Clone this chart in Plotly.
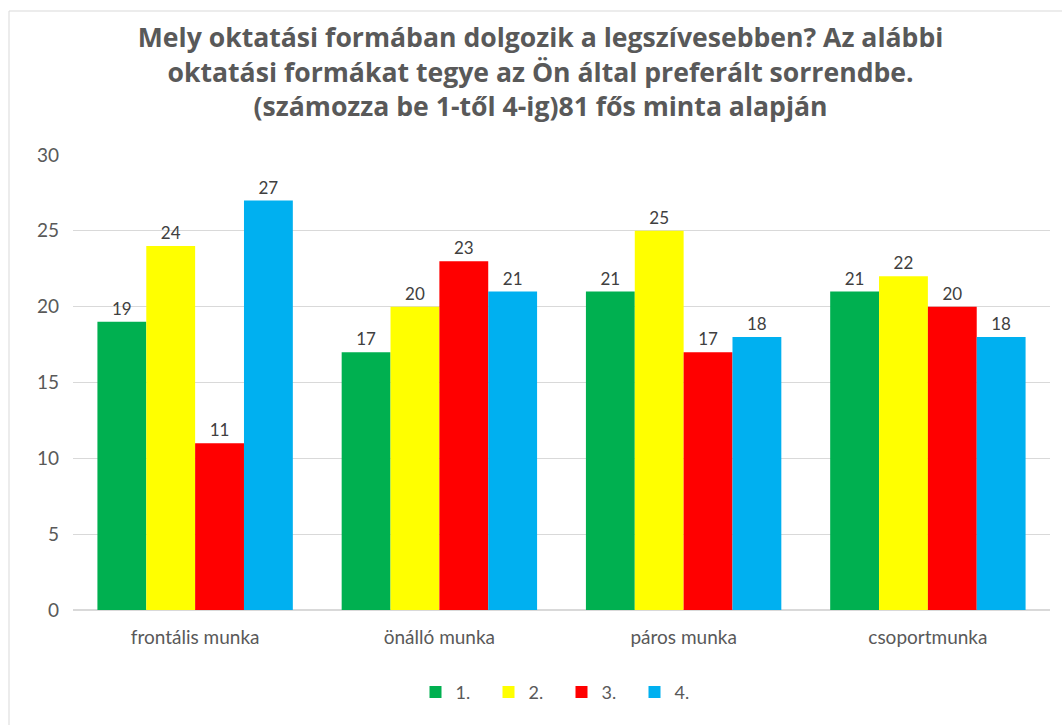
import plotly.graph_objects as go

categories = ["frontális munka", "önálló munka", "páros munka", "csoportmunka"]
series_names = ["1.", "2.", "3.", "4."]
rank1 = [19, 17, 21, 21]
rank2 = [24, 20, 25, 22]
rank3 = [11, 23, 17, 20]
rank4 = [27, 21, 18, 18]
colors = ["#00B050", "#FFFF00", "#FF0000", "#00B0F0"]

title = ("<b>Mely oktatási formában dolgozik a legszívesebben? Az alábbi<br>"
         "oktatási formákat tegye az Ön által preferált sorrendbe.<br>"
         "(számozza be 1-től 4-ig)81 fős minta alapján</b>")

FONT = "Lato, Liberation Sans, sans-serif"

fig = go.Figure()
for name, vals, col in zip(series_names, [rank1, rank2, rank3, rank4], colors):
    fig.add_trace(
        go.Bar(
            x=categories,
            y=vals,
            name=name,
            marker=dict(color=col, line=dict(width=0)),
            text=vals,
            textposition="outside",
            cliponaxis=False,
            textfont=dict(size=17, color="#404040"),
        )
    )

fig.update_layout(
    width=1062,
    height=725,
    paper_bgcolor="white",
    plot_bgcolor="white",
    font=dict(family=FONT, color="#595959"),
    title=dict(
        text=title,
        x=0.509,
        xanchor="center",
        y=0.935,
        yanchor="top",
        font=dict(size=26.6, color="#595959", family="Open Sans, Lato, sans-serif"),
    ),
    barmode="group",
    bargap=0.2,
    bargroupgap=0,
    margin=dict(l=73, r=12, t=155, b=115),
    legend=dict(
        orientation="h",
        x=0.5,
        xanchor="center",
        y=-0.14,
        yanchor="top",
        font=dict(size=18, color="#595959"),
        itemwidth=30,
        entrywidth=28,
    ),
    yaxis=dict(
        range=[0, 30],
        dtick=5,
        showgrid=True,
        gridcolor="#D9D9D9",
        gridwidth=1,
        zeroline=True,
        zerolinecolor="#D9D9D9",
        tickfont=dict(size=19, color="#595959"),
        ticklabelstandoff=13,
        showline=False,
    ),
    xaxis=dict(
        tickfont=dict(size=19, color="#595959"),
        ticklabelstandoff=14,
        showline=False,
        ticks="",
    ),
    shapes=[
        dict(
            type="rect",
            xref="paper",
            yref="paper",
            x0=(9 - 73) / 977,
            x1=1.05,
            y0=-0.5,
            y1=(610 - 11) / 455,
            line=dict(color="#D9D9D9", width=1),
            fillcolor="rgba(0,0,0,0)",
            layer="below",
        )
    ],
)

fig.write_html(
    "out.html",
    config={"displayModeBar": False},
    post_script="document.body.style.margin='0';",
)
